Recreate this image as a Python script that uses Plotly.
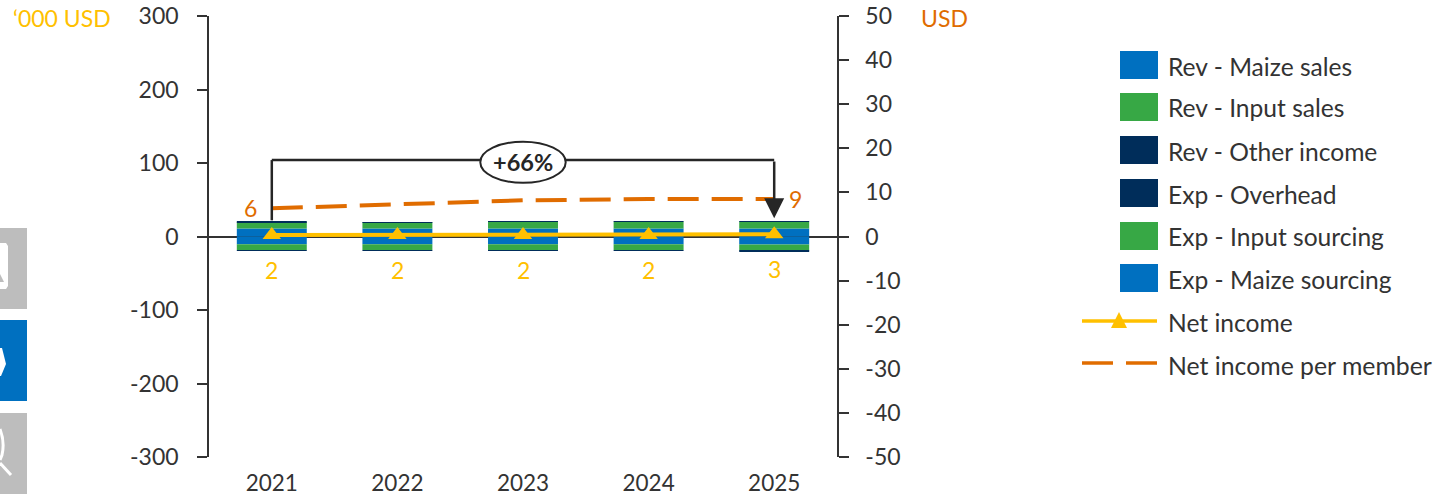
import plotly.graph_objects as go

W, H = 1436, 496
L, R, T, B = 209, 837, 16, 457
FONT = "Lato"
TEXT = "#333333"
BLUE, GREEN, NAVY = "#0070C0", "#37A845", "#002D5A"
YELLOW, ORANGE = "#FFC000", "#E06C00"

years = [2021, 2022, 2023, 2024, 2025]
rev_maize = [11, 11, 11, 11, 11]
rev_input = [8.5, 8.5, 9, 9, 9]
rev_other = [0.5, 0.2, 0.4, 0.2, 1]
exp_overhead = [-0.5, -0.2, -0.2, -0.2, -1]
exp_input = [-8, -8, -8, -8, -8]
exp_maize = [-10.5, -10.5, -10.5, -10.5, -11]
net_income = [2, 2, 2, 2, 3]
net_income_labels = ["2", "2", "2", "2", "3"]
net_per_member = [6.4, 7.4, 8.2, 8.5, 8.5]
member_labels = {2021: "6", 2025: "9"}
change_label = "+66%"
left_ticks = [-300, -200, -100, 0, 100, 200, 300]
right_ticks = [-50, -40, -30, -20, -10, 0, 10, 20, 30, 40, 50]

bar_series = [
    ("Rev - Maize sales", rev_maize, BLUE),
    ("Rev - Input sales", rev_input, GREEN),
    ("Rev - Other income", rev_other, NAVY),
    ("Exp - Overhead", exp_overhead, NAVY),
    ("Exp - Input sourcing", exp_input, GREEN),
    ("Exp - Maize sourcing", exp_maize, BLUE),
]
bar_stack_order = [0, 5, 1, 4, 2, 3]


def px(x):
    return (x - L) / (R - L)


def py(y):
    return (B - y) / (B - T)


fig = go.Figure()
for i in bar_stack_order:
    name, vals, col = bar_series[i]
    fig.add_bar(x=years, y=vals, name=name, marker=dict(color=col, line_width=0), yaxis="y")

fig.add_scatter(x=years, y=net_income, name="Net income", mode="lines+markers", yaxis="y",
                line=dict(color=YELLOW, width=4),
                marker=dict(symbol="triangle-up", size=16, color=YELLOW))
fig.add_scatter(x=years, y=net_per_member, name="Net income per member", mode="lines", yaxis="y2",
                line=dict(color=ORANGE, width=4, dash="31px,13px"))

shapes, anns = [], []

bracket = dict(type="line", xref="x", yref="y", line=dict(color="#262626", width=2.5))
shapes.append(dict(bracket, x0=2021, x1=2021, y0=22, y1=104))
shapes.append(dict(bracket, x0=2021, x1=2025, y0=104, y1=104))
shapes.append(dict(type="circle", xref="x", yref="y", x0=2022.66, x1=2023.34, y0=73, y1=129,
                   fillcolor="white", line=dict(color="#262626", width=2)))
anns.append(dict(x=2023, y=101, xref="x", yref="y", yanchor="middle", text=f"<b>{change_label}</b>",
                 showarrow=False, font=dict(family=FONT, size=23.5, color="#262626")))
anns.append(dict(x=2025, y=25, ax=2025, ay=104, xref="x", yref="y", axref="x", ayref="y", text="",
                 showarrow=True, arrowhead=2, arrowsize=1.6, arrowwidth=2.5, arrowcolor="#262626"))

for yr, lab, v in zip(years, net_income_labels, net_income):
    anns.append(dict(x=yr, y=v, xref="x", yref="y", yanchor="middle", text=lab, showarrow=False, yshift=-35,
                     font=dict(family=FONT, size=23, color=YELLOW)))
for yr, v in zip(years, net_per_member):
    if yr in member_labels:
        anns.append(dict(x=yr, y=v, xref="x", yref="y2", yanchor="middle", text=member_labels[yr],
                         showarrow=False, xshift=-21 if yr == 2021 else 21,
                         font=dict(family=FONT, size=23, color=ORANGE)))

anns.append(dict(x=px(13), y=py(18), xref="paper", yref="paper", xanchor="left", yanchor="middle",
                 text="‘000 USD", xshift=-2, showarrow=False, font=dict(family=FONT, size=23, color=YELLOW)))
anns.append(dict(x=px(921), y=py(18), xref="paper", yref="paper", xanchor="left", yanchor="middle",
                 text="USD", xshift=-2, showarrow=False, font=dict(family=FONT, size=23, color=ORANGE)))

rows = [65, 107, 150, 193, 236, 278]
for (name, _, col), yc in zip(bar_series, rows):
    shapes.append(dict(type="rect", xref="paper", yref="paper", x0=px(1120), x1=px(1158),
                       y0=py(yc - 14), y1=py(yc + 14), fillcolor=col, line_width=0))
    anns.append(dict(x=px(1168), y=py(yc + 1), xref="paper", yref="paper", xanchor="left", yanchor="middle",
                     text=name, xshift=-2, showarrow=False, font=dict(family=FONT, size=24.6, color=TEXT)))
shapes.append(dict(type="line", xref="paper", yref="paper", x0=px(1082), x1=px(1157), y0=py(321), y1=py(321),
                   line=dict(color=YELLOW, width=3.5)))
shapes.append(dict(type="path", xref="paper", yref="paper",
                   path=f"M{px(1111)},{py(328)} L{px(1127)},{py(328)} L{px(1119)},{py(312)} Z",
                   fillcolor=YELLOW, line_width=0))
anns.append(dict(x=px(1168), y=py(322), xref="paper", yref="paper", xanchor="left", yanchor="middle",
                 text="Net income", xshift=-2, showarrow=False, font=dict(family=FONT, size=24.6, color=TEXT)))
for a, b in [(1082, 1113), (1126, 1157)]:
    shapes.append(dict(type="line", xref="paper", yref="paper", x0=px(a), x1=px(b), y0=py(363), y1=py(363),
                       line=dict(color=ORANGE, width=3.5)))
anns.append(dict(x=px(1168), y=py(365), xref="paper", yref="paper", xanchor="left", yanchor="middle",
                 text="Net income per member", xshift=-2, showarrow=False,
                 font=dict(family=FONT, size=24.8, color=TEXT)))

for y0, y1, col in [(228, 309, "#BDBDBD"), (320, 401, BLUE), (413, 494, "#BDBDBD")]:
    shapes.append(dict(type="rect", xref="paper", yref="paper", x0=px(0), x1=px(27), y0=py(y0), y1=py(y1),
                       fillcolor=col, line_width=0))
shapes.append(dict(type="path", xref="paper", yref="paper",
                   path=f"M{px(0)},{py(243)} L{px(6)},{py(243)} L{px(8)},{py(246)} L{px(8)},{py(286)} L{px(6)},{py(289)} L{px(0)},{py(289)} Z",
                   fillcolor="white", line_width=0))
shapes.append(dict(type="path", xref="paper", yref="paper",
                   path=f"M{px(0)},{py(274)} L{px(4)},{py(282)} L{px(0)},{py(282)} Z",
                   fillcolor="#BDBDBD", line_width=0))
shapes.append(dict(type="path", xref="paper", yref="paper",
                   path=f"M{px(0)},{py(348)} L{px(2)},{py(348)} L{px(6)},{py(364)} L{px(1)},{py(376)} L{px(0)},{py(376)} Z",
                   fillcolor="white", line_width=0))
shapes.append(dict(type="path", xref="paper", yref="paper",
                   path=f"M{px(0)},{py(429)} Q{px(5)},{py(442)} {px(2)},{py(455)} L{px(0)},{py(460)}",
                   line=dict(color="white", width=3)))
shapes.append(dict(type="line", xref="paper", yref="paper", x0=px(0), y0=py(463), x1=px(11), y1=py(475),
                   line=dict(color="white", width=3)))

axis_line = "#333333"
fig.update_layout(
    template="none",
    width=W, height=H, autosize=False, barmode="relative", bargap=0.443,
    margin=dict(l=L, r=W - R, t=T, b=H - B, pad=0),
    paper_bgcolor="white", plot_bgcolor="white", showlegend=False,
    font=dict(family=FONT, size=23, color=TEXT),
    shapes=shapes, annotations=anns,
    xaxis=dict(range=[2020.5, 2025.5], tickvals=years, ticktext=[str(y) for y in years],
               showgrid=False, zeroline=False, showline=False, ticks="", ticklabelstandoff=10,
               automargin=False, tickfont=dict(family=FONT, size=22.5, color=TEXT)),
    yaxis=dict(range=[-300, 300], tickvals=left_ticks, ticktext=[str(t) for t in left_ticks],
               showgrid=False, zeroline=True,
               zerolinecolor=axis_line, zerolinewidth=1.5, showline=True, linecolor=axis_line, linewidth=1.5,
               ticks="outside", ticklen=10, tickcolor=axis_line, tickwidth=1.5, ticklabelstandoff=14,
               automargin=False, tickfont=dict(family=FONT, size=23, color=TEXT)),
    yaxis2=dict(range=[-50, 50], tickvals=right_ticks, ticktext=[str(t) for t in right_ticks],
                overlaying="y", side="right", anchor="x",
                showgrid=False, zeroline=False, showline=True, linecolor=axis_line, linewidth=1.5,
                ticks="outside", ticklen=10, tickcolor=axis_line, tickwidth=1.5, ticklabelstandoff=12,
                automargin=False, tickfont=dict(family=FONT, size=23, color=TEXT)),
)
fig.write_html("out.html", config={"displayModeBar": False},
               post_script="document.body.style.margin='0';document.body.style.overflow='hidden';")
